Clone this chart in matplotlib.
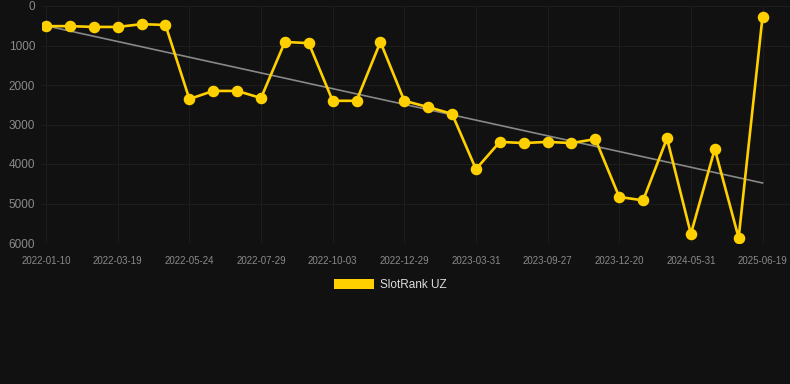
import numpy as np
from matplotlib import pyplot as plt
from matplotlib.patches import Patch

plt.rcParams['font.family'] = ['Liberation Sans', 'DejaVu Sans']

# every 3rd point carries a date label
tick_labels = ['2022-01-10', '2022-03-19', '2022-05-24', '2022-07-29', '2022-10-03',
               '2022-12-29', '2023-03-31', '2023-09-27', '2023-12-20', '2024-05-31',
               '2025-06-19']

rank = [510, 510, 530, 530, 460, 480,
        2355, 2150, 2150, 2330, 910, 940,
        2400, 2400, 910, 2400, 2560, 2730,
        4130, 3440, 3470, 3440, 3470, 3370,
        4835, 4920, 3350, 5770, 3620, 5870,
        270]

bg = '#111111'
yellow = '#FFD000'

fig = plt.figure(figsize=(7.9, 3.84), dpi=100)
fig.patch.set_facecolor(bg)
ax = fig.add_axes([42 / 790, 1 - 243 / 384, 748 / 790, 237 / 384])
ax.set_facecolor(bg)

x = np.arange(len(rank))
ax.plot(x, rank, color=yellow, lw=1.9, marker='o', ms=7.3, zorder=3)

# linear trend over the series
k, b = np.polyfit(x, rank, 1)
ax.plot([x[0], x[-1]], [k * x[0] + b, k * x[-1] + b], color='#888888', lw=1.2, zorder=2)

ax.set_ylim(6000, 0)
ax.set_xlim(-0.17, 31.15)
ax.set_yticks([0, 1000, 2000, 3000, 4000, 5000, 6000])
ax.set_xticks(x[::3])
ax.set_xticklabels(tick_labels)

ax.grid(True, color='#1d1d1d', lw=0.8)
ax.axhline(6000, color='#2a2a2a', lw=0.8, zorder=1)
ax.set_axisbelow(True)
for s in ax.spines.values():
    s.set_visible(False)
ax.tick_params(axis='y', length=0, pad=5, labelsize=8.5, labelcolor='#8a8a8a')
ax.tick_params(axis='x', length=0, pad=9, labelsize=7, labelcolor='#8a8a8a')

fig.legend(handles=[Patch(facecolor=yellow, label='SlotRank UZ')],
           loc='center', bbox_to_anchor=(390 / 790, 1 - 285 / 384),
           frameon=False, fontsize=8.5, labelcolor='#dddddd',
           handlelength=3.4, handleheight=0.95, handletextpad=0.5)

fig.savefig('out.png', dpi=100, facecolor=bg)
